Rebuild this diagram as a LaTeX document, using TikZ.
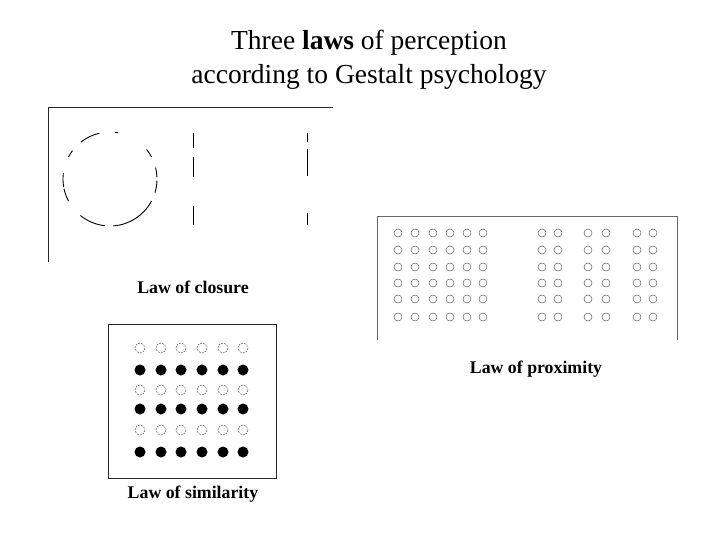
\documentclass[tikz,border=0pt]{standalone}
\usepackage{fontspec}
\setmainfont{Liberation Serif}

\begin{document}
\begin{tikzpicture}[
  x=1pt, y=-1pt,
  frame/.style={draw=black!85, line width=0.8pt},
  lightframe/.style={draw=black!60, line width=0.8pt},
  gapline/.style={draw=black, line width=0.9pt},
  hollow/.style={draw=black!60, line width=0.55pt},
  blackdot/.style={fill=black},
  caption/.style={font=\fontsize{17.8}{21}\selectfont\bfseries, anchor=base, inner sep=0pt},
  heading/.style={font=\fontsize{27.5}{34}\selectfont, align=center, anchor=north, inner sep=0pt}
]
\useasboundingbox (0,0) rectangle (720,540);

% Title
\node[heading] (title) at (369,30) {Three \textbf{laws} of perception\\according to Gestalt psychology};

% Closure (y axis points down, so angles are negated)
\draw[frame] (333,107) -- (48,107) -- (48,262);
\foreach \a/\b in {103/128, 80/84, 143/152, 28/39, -17/-2, 2/14, 173/190, 192/208, -86/-28, 231/264}
  \draw[gapline] ([shift={(-\a:47)}]110,179) arc[start angle=-\a, end angle=-\b, radius=47];
\foreach \x/\ya/\yb in {193/133/148, 193/157/177, 193/206/225, 307/133/142, 307/149/176, 307/213/225}
  \draw[gapline] (\x,\ya) -- (\x,\yb);
\node[caption] (closure) at (193,293) {Law of closure};

% Proximity
\draw[lightframe] (377,340) -- (377,216) -- (677,216) -- (677,340);
\foreach \x in {398,415,433,450,467,483,542,558,588,606,637,653}
  \foreach \y in {233,250,267,283,299,317}
    \draw[hollow] (\x,\y) circle[radius=4];
\node[caption] (proximity) at (536,373) {Law of proximity};

% Similarity
\draw[frame] (108,324) rectangle (276,478);
\foreach \x in {140,161,181,202,223,243} {
  \foreach \y in {348,390,430}
    \draw[hollow, dashed, dash pattern=on 2pt off 1pt] (\x,\y) circle[radius=5];
  \foreach \y in {370,409,452}
    \fill[blackdot] (\x,\y) circle[radius=5.5];
}
\node[caption] (similarity) at (193,498) {Law of similarity};
\end{tikzpicture}
\end{document}
